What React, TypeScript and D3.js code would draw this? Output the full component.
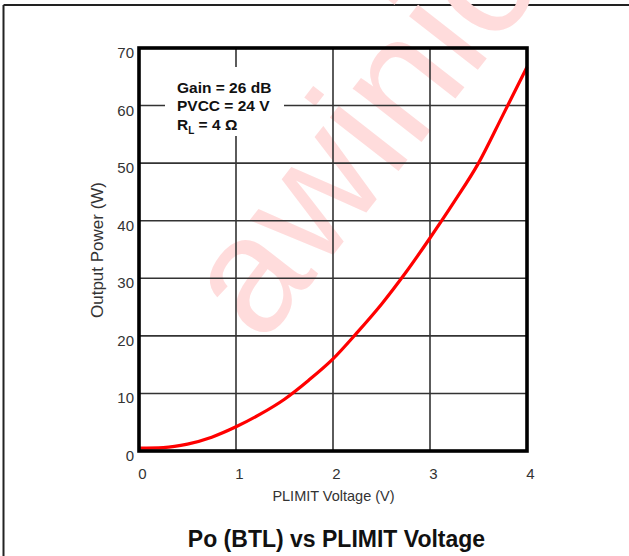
import * as d3 from "d3";
import React, { useEffect, useRef } from "react";

// PLIMIT voltage (V) and output power (W)
const plimit = [0, 0.25, 0.5, 0.75, 1, 1.25, 1.5, 1.75, 2, 2.25, 2.5, 2.75, 3, 3.25, 3.5, 3.75, 4];
const power = [0.5, 0.6, 1.2, 2.4, 4.2, 6.4, 9.0, 12.3, 16.0, 20.6, 25.5, 31.0, 37.0, 43.3, 50.0, 58.3, 66.7];

const xTicks = [0, 1, 2, 3, 4];
const yTicks = [0, 10, 20, 30, 40, 50, 60, 70];
const conditions = ["Gain = 26 dB", "PVCC = 24 V"];

function App() {
  const ref = useRef<SVGSVGElement>(null);

  useEffect(() => {
    const width = 629;
    const height = 556;
    const margin = { top: 48, left: 139, bottom: 105, right: 102 };
    const font = "'Liberation Sans', Arial, sans-serif";

    const svg = d3.select(ref.current);
    svg.selectAll("*").remove();
    svg.attr("width", width).attr("height", height);

    const x = d3.scaleLinear().domain([0, 4]).range([margin.left, width - margin.right]);
    const y = d3.scaleLinear().domain([0, 70]).range([height - margin.bottom, margin.top]);

    // page frame
    svg.append("line").attr("x1", 3.5).attr("x2", width).attr("y1", 5).attr("y2", 5)
      .attr("stroke", "#222").attr("stroke-width", 2);
    svg.append("line").attr("x1", 3.5).attr("x2", 3.5).attr("y1", 5).attr("y2", height)
      .attr("stroke", "#222").attr("stroke-width", 2);

    // watermark
    svg.append("text")
      .attr("transform", "translate(262,346) rotate(-52)")
      .attr("font-family", font)
      .attr("font-size", 165)
      .attr("fill", "#ffdcdc")
      .text("awinic");

    // grid
    const grid = svg.append("g").attr("stroke", "#333").attr("stroke-width", 1.6);
    grid.selectAll(".gx").data(xTicks.slice(1, -1)).enter().append("line")
      .attr("x1", d => x(d)).attr("x2", d => x(d))
      .attr("y1", y(70)).attr("y2", y(0));
    grid.selectAll(".gy").data(yTicks.slice(1, -1)).enter().append("line")
      .attr("x1", x(0)).attr("x2", x(4))
      .attr("y1", d => y(d)).attr("y2", d => y(d));

    // white box behind conditions
    svg.append("rect").attr("x", 165).attr("y", 67).attr("width", 119).attr("height", 69)
      .attr("fill", "#fff");

    // curve
    const line = d3.line<number>()
      .x((d, i) => x(plimit[i]))
      .y(d => y(d))
      .curve(d3.curveMonotoneX);
    svg.append("path").datum(power)
      .attr("d", line)
      .attr("fill", "none")
      .attr("stroke", "#ff0000")
      .attr("stroke-width", 3.2);

    // plot frame
    svg.append("rect")
      .attr("x", x(0)).attr("y", y(70))
      .attr("width", x(4) - x(0)).attr("height", y(0) - y(70))
      .attr("fill", "none").attr("stroke", "#000").attr("stroke-width", 3.6);

    // tick labels
    svg.selectAll(".yl").data(yTicks).enter().append("text")
      .attr("x", x(0) - 5).attr("y", d => y(d) + 10)
      .attr("text-anchor", "end")
      .attr("font-family", font).attr("font-size", 15).attr("fill", "#333")
      .text(d => d);
    svg.selectAll(".xl").data(xTicks).enter().append("text")
      .attr("x", d => x(d) + 3.5).attr("y", 479)
      .attr("text-anchor", "middle")
      .attr("font-family", font).attr("font-size", 15).attr("fill", "#333")
      .text(d => d);

    // axis titles
    svg.append("text")
      .attr("x", 333.5).attr("y", 501)
      .attr("text-anchor", "middle")
      .attr("font-family", font).attr("font-size", 14.5).attr("fill", "#333")
      .text("PLIMIT Voltage (V)");
    svg.append("text")
      .attr("transform", "translate(103,250) rotate(-90)")
      .attr("text-anchor", "middle")
      .attr("font-family", font).attr("font-size", 17).attr("fill", "#333")
      .text("Output Power (W)");

    // conditions
    const cond = svg.append("g")
      .attr("font-family", font).attr("font-size", 15.5).attr("font-weight", "bold").attr("fill", "#111");
    cond.selectAll(".c").data(conditions).enter().append("text")
      .attr("x", 177).attr("y", (d, i) => 92.5 + i * 18.7)
      .text(d => d);
    const rl = cond.append("text").attr("x", 177).attr("y", 130);
    rl.append("tspan").text("R");
    rl.append("tspan").attr("font-size", 10).attr("dy", 4).text("L");
    rl.append("tspan").attr("dy", -4).text(" = 4 \u03A9");

    // title
    svg.append("text")
      .attr("x", 336.5).attr("y", 547)
      .attr("text-anchor", "middle")
      .attr("font-family", font).attr("font-size", 23).attr("font-weight", "bold").attr("fill", "#111")
      .text("Po (BTL) vs PLIMIT Voltage");
  }, []);

  return (
    <svg ref={ref} style={{ position: "absolute", left: 0, top: 0, background: "#fff" }}></svg>
  );
}

export default App;
